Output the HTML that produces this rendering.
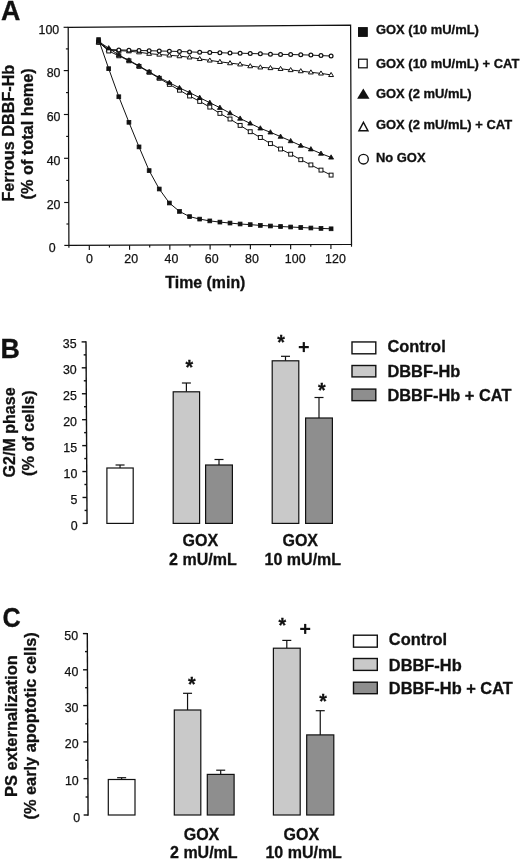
<!DOCTYPE html>
<html><head><meta charset="utf-8"><title>Figure</title>
<style>html,body{margin:0;padding:0;background:#fff;}svg{display:block;}</style>
</head><body>
<svg width="520" height="860" viewBox="0 0 520 860">
<rect width="520" height="860" fill="#fff"/>
<g stroke="#111" stroke-width="1.25" fill="none" stroke-linecap="square">
<polygon points="68.2,27.3 350.6,25.2 351.5,244.4 68.9,245.4"/>
</g>
<g stroke="#111" stroke-width="1.15" fill="none" stroke-linecap="butt">
<line x1="63.60" y1="27.30" x2="68.20" y2="27.30"/>
<line x1="65.87" y1="48.90" x2="68.27" y2="48.90"/>
<line x1="63.74" y1="70.60" x2="68.34" y2="70.60"/>
<line x1="66.01" y1="92.60" x2="68.41" y2="92.60"/>
<line x1="63.88" y1="114.50" x2="68.48" y2="114.50"/>
<line x1="66.15" y1="136.40" x2="68.55" y2="136.40"/>
<line x1="64.02" y1="158.30" x2="68.62" y2="158.30"/>
<line x1="66.29" y1="180.40" x2="68.69" y2="180.40"/>
<line x1="64.16" y1="202.50" x2="68.76" y2="202.50"/>
<line x1="66.43" y1="224.00" x2="68.83" y2="224.00"/>
<line x1="64.30" y1="245.40" x2="68.90" y2="245.40"/>
<line x1="68.90" y1="245.40" x2="68.90" y2="247.70"/>
<line x1="89.30" y1="245.33" x2="89.30" y2="249.93"/>
<line x1="109.44" y1="245.26" x2="109.44" y2="247.56"/>
<line x1="129.57" y1="245.19" x2="129.57" y2="249.79"/>
<line x1="149.70" y1="245.11" x2="149.70" y2="247.41"/>
<line x1="169.84" y1="245.04" x2="169.84" y2="249.64"/>
<line x1="189.97" y1="244.97" x2="189.97" y2="247.27"/>
<line x1="210.11" y1="244.90" x2="210.11" y2="249.50"/>
<line x1="230.25" y1="244.83" x2="230.25" y2="247.13"/>
<line x1="250.38" y1="244.76" x2="250.38" y2="249.36"/>
<line x1="270.51" y1="244.69" x2="270.51" y2="246.99"/>
<line x1="290.65" y1="244.62" x2="290.65" y2="249.22"/>
<line x1="310.79" y1="244.54" x2="310.79" y2="246.84"/>
<line x1="330.92" y1="244.47" x2="330.92" y2="249.07"/>
<line x1="351.50" y1="244.40" x2="351.50" y2="246.70"/>
</g>
<g font-family="Liberation Sans, sans-serif" font-size="12.4" fill="#111" stroke="#111" stroke-width="0.25">
<text x="55.6" y="251.80" text-anchor="end">0</text>
<text x="60.5" y="208.90" text-anchor="end">20</text>
<text x="60.5" y="164.70" text-anchor="end">40</text>
<text x="60.5" y="120.90" text-anchor="end">60</text>
<text x="60.5" y="77.00" text-anchor="end">80</text>
<text x="59.2" y="33.70" text-anchor="end">100</text>
<text x="86.10" y="262.5">0</text>
<text x="124.27" y="262.5">20</text>
<text x="164.54" y="262.5">40</text>
<text x="204.81" y="262.5">60</text>
<text x="245.08" y="262.5">80</text>
<text x="284.85" y="262.5">100</text>
<text x="325.12" y="262.5">120</text>
</g>
<polyline points="98.60,42.50 108.71,50.00 118.82,50.60 128.93,51.20 139.03,52.20 149.14,53.70 159.25,54.50 169.36,55.30 179.47,56.10 189.58,57.30 199.69,58.90 209.79,60.40 219.90,61.80 230.01,63.10 240.12,64.30 250.23,66.10 260.34,67.30 270.44,68.00 280.55,68.80 290.66,70.00 300.77,71.10 310.88,72.30 320.99,73.40 331.10,74.90" fill="none" stroke="#111" stroke-width="1.0"/>
<polygon points="98.60,40.04 101.05,44.14 96.15,44.14" fill="#fff" stroke="#111" stroke-width="1.0" stroke-linejoin="miter"/>
<polygon points="108.71,47.54 111.16,51.64 106.26,51.64" fill="#fff" stroke="#111" stroke-width="1.0" stroke-linejoin="miter"/>
<polygon points="118.82,48.14 121.27,52.24 116.37,52.24" fill="#fff" stroke="#111" stroke-width="1.0" stroke-linejoin="miter"/>
<polygon points="128.93,48.74 131.38,52.84 126.48,52.84" fill="#fff" stroke="#111" stroke-width="1.0" stroke-linejoin="miter"/>
<polygon points="139.03,49.74 141.48,53.84 136.58,53.84" fill="#fff" stroke="#111" stroke-width="1.0" stroke-linejoin="miter"/>
<polygon points="149.14,51.24 151.59,55.34 146.69,55.34" fill="#fff" stroke="#111" stroke-width="1.0" stroke-linejoin="miter"/>
<polygon points="159.25,52.04 161.70,56.14 156.80,56.14" fill="#fff" stroke="#111" stroke-width="1.0" stroke-linejoin="miter"/>
<polygon points="169.36,52.84 171.81,56.94 166.91,56.94" fill="#fff" stroke="#111" stroke-width="1.0" stroke-linejoin="miter"/>
<polygon points="179.47,53.64 181.92,57.74 177.02,57.74" fill="#fff" stroke="#111" stroke-width="1.0" stroke-linejoin="miter"/>
<polygon points="189.58,54.84 192.03,58.94 187.13,58.94" fill="#fff" stroke="#111" stroke-width="1.0" stroke-linejoin="miter"/>
<polygon points="199.69,56.44 202.13,60.54 197.24,60.54" fill="#fff" stroke="#111" stroke-width="1.0" stroke-linejoin="miter"/>
<polygon points="209.79,57.94 212.24,62.04 207.34,62.04" fill="#fff" stroke="#111" stroke-width="1.0" stroke-linejoin="miter"/>
<polygon points="219.90,59.34 222.35,63.44 217.45,63.44" fill="#fff" stroke="#111" stroke-width="1.0" stroke-linejoin="miter"/>
<polygon points="230.01,60.64 232.46,64.74 227.56,64.74" fill="#fff" stroke="#111" stroke-width="1.0" stroke-linejoin="miter"/>
<polygon points="240.12,61.84 242.57,65.94 237.67,65.94" fill="#fff" stroke="#111" stroke-width="1.0" stroke-linejoin="miter"/>
<polygon points="250.23,63.64 252.68,67.74 247.78,67.74" fill="#fff" stroke="#111" stroke-width="1.0" stroke-linejoin="miter"/>
<polygon points="260.34,64.84 262.79,68.94 257.89,68.94" fill="#fff" stroke="#111" stroke-width="1.0" stroke-linejoin="miter"/>
<polygon points="270.44,65.54 272.89,69.64 267.99,69.64" fill="#fff" stroke="#111" stroke-width="1.0" stroke-linejoin="miter"/>
<polygon points="280.55,66.34 283.00,70.44 278.10,70.44" fill="#fff" stroke="#111" stroke-width="1.0" stroke-linejoin="miter"/>
<polygon points="290.66,67.54 293.11,71.64 288.21,71.64" fill="#fff" stroke="#111" stroke-width="1.0" stroke-linejoin="miter"/>
<polygon points="300.77,68.64 303.22,72.74 298.32,72.74" fill="#fff" stroke="#111" stroke-width="1.0" stroke-linejoin="miter"/>
<polygon points="310.88,69.84 313.33,73.94 308.43,73.94" fill="#fff" stroke="#111" stroke-width="1.0" stroke-linejoin="miter"/>
<polygon points="320.99,70.94 323.44,75.04 318.54,75.04" fill="#fff" stroke="#111" stroke-width="1.0" stroke-linejoin="miter"/>
<polygon points="331.10,72.44 333.55,76.54 328.65,76.54" fill="#fff" stroke="#111" stroke-width="1.0" stroke-linejoin="miter"/>
<polyline points="98.60,42.00 108.71,49.60 118.82,49.90 128.93,50.20 139.03,50.50 149.14,50.70 159.25,51.00 169.36,51.20 179.47,51.50 189.58,51.90 199.69,52.30 209.79,52.40 219.90,52.70 230.01,53.10 240.12,53.20 250.23,53.50 260.34,53.80 270.44,54.20 280.55,54.40 290.66,54.50 300.77,54.80 310.88,55.10 320.99,55.60 331.10,56.00" fill="none" stroke="#111" stroke-width="1.0"/>
<circle cx="98.60" cy="42.00" r="1.9" fill="#fff" stroke="#111" stroke-width="1.25"/>
<circle cx="108.71" cy="49.60" r="1.9" fill="#fff" stroke="#111" stroke-width="1.25"/>
<circle cx="118.82" cy="49.90" r="1.9" fill="#fff" stroke="#111" stroke-width="1.25"/>
<circle cx="128.93" cy="50.20" r="1.9" fill="#fff" stroke="#111" stroke-width="1.25"/>
<circle cx="139.03" cy="50.50" r="1.9" fill="#fff" stroke="#111" stroke-width="1.25"/>
<circle cx="149.14" cy="50.70" r="1.9" fill="#fff" stroke="#111" stroke-width="1.25"/>
<circle cx="159.25" cy="51.00" r="1.9" fill="#fff" stroke="#111" stroke-width="1.25"/>
<circle cx="169.36" cy="51.20" r="1.9" fill="#fff" stroke="#111" stroke-width="1.25"/>
<circle cx="179.47" cy="51.50" r="1.9" fill="#fff" stroke="#111" stroke-width="1.25"/>
<circle cx="189.58" cy="51.90" r="1.9" fill="#fff" stroke="#111" stroke-width="1.25"/>
<circle cx="199.69" cy="52.30" r="1.9" fill="#fff" stroke="#111" stroke-width="1.25"/>
<circle cx="209.79" cy="52.40" r="1.9" fill="#fff" stroke="#111" stroke-width="1.25"/>
<circle cx="219.90" cy="52.70" r="1.9" fill="#fff" stroke="#111" stroke-width="1.25"/>
<circle cx="230.01" cy="53.10" r="1.9" fill="#fff" stroke="#111" stroke-width="1.25"/>
<circle cx="240.12" cy="53.20" r="1.9" fill="#fff" stroke="#111" stroke-width="1.25"/>
<circle cx="250.23" cy="53.50" r="1.9" fill="#fff" stroke="#111" stroke-width="1.25"/>
<circle cx="260.34" cy="53.80" r="1.9" fill="#fff" stroke="#111" stroke-width="1.25"/>
<circle cx="270.44" cy="54.20" r="1.9" fill="#fff" stroke="#111" stroke-width="1.25"/>
<circle cx="280.55" cy="54.40" r="1.9" fill="#fff" stroke="#111" stroke-width="1.25"/>
<circle cx="290.66" cy="54.50" r="1.9" fill="#fff" stroke="#111" stroke-width="1.25"/>
<circle cx="300.77" cy="54.80" r="1.9" fill="#fff" stroke="#111" stroke-width="1.25"/>
<circle cx="310.88" cy="55.10" r="1.9" fill="#fff" stroke="#111" stroke-width="1.25"/>
<circle cx="320.99" cy="55.60" r="1.9" fill="#fff" stroke="#111" stroke-width="1.25"/>
<circle cx="331.10" cy="56.00" r="1.9" fill="#fff" stroke="#111" stroke-width="1.25"/>
<polyline points="98.60,42.00 108.71,51.00 118.82,55.80 128.93,60.80 139.03,66.40 149.14,72.30 159.25,78.30 169.36,84.40 179.47,90.20 189.58,96.00 199.69,101.40 209.79,107.10 219.90,113.40 230.01,119.00 240.12,125.40 250.23,131.70 260.34,137.50 270.44,143.60 280.55,149.00 290.66,154.20 300.77,159.70 310.88,164.90 320.99,170.10 331.10,175.10" fill="none" stroke="#111" stroke-width="1.0"/>
<rect x="96.65" y="40.05" width="3.9" height="3.9" fill="#fff" stroke="#111" stroke-width="1.0"/>
<rect x="106.76" y="49.05" width="3.9" height="3.9" fill="#fff" stroke="#111" stroke-width="1.0"/>
<rect x="116.87" y="53.85" width="3.9" height="3.9" fill="#fff" stroke="#111" stroke-width="1.0"/>
<rect x="126.98" y="58.85" width="3.9" height="3.9" fill="#fff" stroke="#111" stroke-width="1.0"/>
<rect x="137.08" y="64.45" width="3.9" height="3.9" fill="#fff" stroke="#111" stroke-width="1.0"/>
<rect x="147.19" y="70.35" width="3.9" height="3.9" fill="#fff" stroke="#111" stroke-width="1.0"/>
<rect x="157.30" y="76.35" width="3.9" height="3.9" fill="#fff" stroke="#111" stroke-width="1.0"/>
<rect x="167.41" y="82.45" width="3.9" height="3.9" fill="#fff" stroke="#111" stroke-width="1.0"/>
<rect x="177.52" y="88.25" width="3.9" height="3.9" fill="#fff" stroke="#111" stroke-width="1.0"/>
<rect x="187.63" y="94.05" width="3.9" height="3.9" fill="#fff" stroke="#111" stroke-width="1.0"/>
<rect x="197.74" y="99.45" width="3.9" height="3.9" fill="#fff" stroke="#111" stroke-width="1.0"/>
<rect x="207.84" y="105.15" width="3.9" height="3.9" fill="#fff" stroke="#111" stroke-width="1.0"/>
<rect x="217.95" y="111.45" width="3.9" height="3.9" fill="#fff" stroke="#111" stroke-width="1.0"/>
<rect x="228.06" y="117.05" width="3.9" height="3.9" fill="#fff" stroke="#111" stroke-width="1.0"/>
<rect x="238.17" y="123.45" width="3.9" height="3.9" fill="#fff" stroke="#111" stroke-width="1.0"/>
<rect x="248.28" y="129.75" width="3.9" height="3.9" fill="#fff" stroke="#111" stroke-width="1.0"/>
<rect x="258.39" y="135.55" width="3.9" height="3.9" fill="#fff" stroke="#111" stroke-width="1.0"/>
<rect x="268.49" y="141.65" width="3.9" height="3.9" fill="#fff" stroke="#111" stroke-width="1.0"/>
<rect x="278.60" y="147.05" width="3.9" height="3.9" fill="#fff" stroke="#111" stroke-width="1.0"/>
<rect x="288.71" y="152.25" width="3.9" height="3.9" fill="#fff" stroke="#111" stroke-width="1.0"/>
<rect x="298.82" y="157.75" width="3.9" height="3.9" fill="#fff" stroke="#111" stroke-width="1.0"/>
<rect x="308.93" y="162.95" width="3.9" height="3.9" fill="#fff" stroke="#111" stroke-width="1.0"/>
<rect x="319.04" y="168.15" width="3.9" height="3.9" fill="#fff" stroke="#111" stroke-width="1.0"/>
<rect x="329.15" y="173.15" width="3.9" height="3.9" fill="#fff" stroke="#111" stroke-width="1.0"/>
<polyline points="98.60,41.50 108.71,48.20 118.82,55.00 128.93,60.30 139.03,65.80 149.14,71.80 159.25,77.60 169.36,82.70 179.47,87.90 189.58,92.60 199.69,97.70 209.79,102.70 219.90,107.70 230.01,113.10 240.12,118.50 250.23,123.40 260.34,128.30 270.44,132.30 280.55,136.60 290.66,141.00 300.77,145.60 310.88,149.20 320.99,153.60 331.10,157.40" fill="none" stroke="#111" stroke-width="1.0"/>
<polygon points="98.60,38.92 101.10,43.22 96.10,43.22" fill="#111" stroke="#111" stroke-width="0.8" stroke-linejoin="miter"/>
<polygon points="108.71,45.62 111.21,49.92 106.21,49.92" fill="#111" stroke="#111" stroke-width="0.8" stroke-linejoin="miter"/>
<polygon points="118.82,52.42 121.32,56.72 116.32,56.72" fill="#111" stroke="#111" stroke-width="0.8" stroke-linejoin="miter"/>
<polygon points="128.93,57.72 131.43,62.02 126.43,62.02" fill="#111" stroke="#111" stroke-width="0.8" stroke-linejoin="miter"/>
<polygon points="139.03,63.22 141.53,67.52 136.53,67.52" fill="#111" stroke="#111" stroke-width="0.8" stroke-linejoin="miter"/>
<polygon points="149.14,69.22 151.64,73.52 146.64,73.52" fill="#111" stroke="#111" stroke-width="0.8" stroke-linejoin="miter"/>
<polygon points="159.25,75.02 161.75,79.32 156.75,79.32" fill="#111" stroke="#111" stroke-width="0.8" stroke-linejoin="miter"/>
<polygon points="169.36,80.12 171.86,84.42 166.86,84.42" fill="#111" stroke="#111" stroke-width="0.8" stroke-linejoin="miter"/>
<polygon points="179.47,85.32 181.97,89.62 176.97,89.62" fill="#111" stroke="#111" stroke-width="0.8" stroke-linejoin="miter"/>
<polygon points="189.58,90.02 192.08,94.32 187.08,94.32" fill="#111" stroke="#111" stroke-width="0.8" stroke-linejoin="miter"/>
<polygon points="199.69,95.12 202.19,99.42 197.19,99.42" fill="#111" stroke="#111" stroke-width="0.8" stroke-linejoin="miter"/>
<polygon points="209.79,100.12 212.29,104.42 207.29,104.42" fill="#111" stroke="#111" stroke-width="0.8" stroke-linejoin="miter"/>
<polygon points="219.90,105.12 222.40,109.42 217.40,109.42" fill="#111" stroke="#111" stroke-width="0.8" stroke-linejoin="miter"/>
<polygon points="230.01,110.52 232.51,114.82 227.51,114.82" fill="#111" stroke="#111" stroke-width="0.8" stroke-linejoin="miter"/>
<polygon points="240.12,115.92 242.62,120.22 237.62,120.22" fill="#111" stroke="#111" stroke-width="0.8" stroke-linejoin="miter"/>
<polygon points="250.23,120.82 252.73,125.12 247.73,125.12" fill="#111" stroke="#111" stroke-width="0.8" stroke-linejoin="miter"/>
<polygon points="260.34,125.72 262.84,130.02 257.84,130.02" fill="#111" stroke="#111" stroke-width="0.8" stroke-linejoin="miter"/>
<polygon points="270.44,129.72 272.94,134.02 267.94,134.02" fill="#111" stroke="#111" stroke-width="0.8" stroke-linejoin="miter"/>
<polygon points="280.55,134.02 283.05,138.32 278.05,138.32" fill="#111" stroke="#111" stroke-width="0.8" stroke-linejoin="miter"/>
<polygon points="290.66,138.42 293.16,142.72 288.16,142.72" fill="#111" stroke="#111" stroke-width="0.8" stroke-linejoin="miter"/>
<polygon points="300.77,143.02 303.27,147.32 298.27,147.32" fill="#111" stroke="#111" stroke-width="0.8" stroke-linejoin="miter"/>
<polygon points="310.88,146.62 313.38,150.92 308.38,150.92" fill="#111" stroke="#111" stroke-width="0.8" stroke-linejoin="miter"/>
<polygon points="320.99,151.02 323.49,155.32 318.49,155.32" fill="#111" stroke="#111" stroke-width="0.8" stroke-linejoin="miter"/>
<polygon points="331.10,154.82 333.60,159.12 328.60,159.12" fill="#111" stroke="#111" stroke-width="0.8" stroke-linejoin="miter"/>
<polyline points="98.60,39.60 108.71,68.70 118.82,96.75 128.93,122.30 139.03,146.90 149.14,170.60 159.25,189.00 169.36,203.00 179.47,211.40 189.58,216.60 199.69,219.10 209.79,220.90 219.90,222.10 230.01,223.05 240.12,224.00 250.23,224.65 260.34,225.40 270.44,226.00 280.55,226.50 290.66,227.00 300.77,227.50 310.88,228.00 320.99,228.40 331.10,228.80" fill="none" stroke="#111" stroke-width="1.0"/>
<rect x="96.70" y="37.70" width="3.8" height="3.8" fill="#111" stroke="#111" stroke-width="0.8"/>
<rect x="106.81" y="66.80" width="3.8" height="3.8" fill="#111" stroke="#111" stroke-width="0.8"/>
<rect x="116.92" y="94.85" width="3.8" height="3.8" fill="#111" stroke="#111" stroke-width="0.8"/>
<rect x="127.03" y="120.40" width="3.8" height="3.8" fill="#111" stroke="#111" stroke-width="0.8"/>
<rect x="137.13" y="145.00" width="3.8" height="3.8" fill="#111" stroke="#111" stroke-width="0.8"/>
<rect x="147.24" y="168.70" width="3.8" height="3.8" fill="#111" stroke="#111" stroke-width="0.8"/>
<rect x="157.35" y="187.10" width="3.8" height="3.8" fill="#111" stroke="#111" stroke-width="0.8"/>
<rect x="167.46" y="201.10" width="3.8" height="3.8" fill="#111" stroke="#111" stroke-width="0.8"/>
<rect x="177.57" y="209.50" width="3.8" height="3.8" fill="#111" stroke="#111" stroke-width="0.8"/>
<rect x="187.68" y="214.70" width="3.8" height="3.8" fill="#111" stroke="#111" stroke-width="0.8"/>
<rect x="197.78" y="217.20" width="3.8" height="3.8" fill="#111" stroke="#111" stroke-width="0.8"/>
<rect x="207.89" y="219.00" width="3.8" height="3.8" fill="#111" stroke="#111" stroke-width="0.8"/>
<rect x="218.00" y="220.20" width="3.8" height="3.8" fill="#111" stroke="#111" stroke-width="0.8"/>
<rect x="228.11" y="221.15" width="3.8" height="3.8" fill="#111" stroke="#111" stroke-width="0.8"/>
<rect x="238.22" y="222.10" width="3.8" height="3.8" fill="#111" stroke="#111" stroke-width="0.8"/>
<rect x="248.33" y="222.75" width="3.8" height="3.8" fill="#111" stroke="#111" stroke-width="0.8"/>
<rect x="258.44" y="223.50" width="3.8" height="3.8" fill="#111" stroke="#111" stroke-width="0.8"/>
<rect x="268.54" y="224.10" width="3.8" height="3.8" fill="#111" stroke="#111" stroke-width="0.8"/>
<rect x="278.65" y="224.60" width="3.8" height="3.8" fill="#111" stroke="#111" stroke-width="0.8"/>
<rect x="288.76" y="225.10" width="3.8" height="3.8" fill="#111" stroke="#111" stroke-width="0.8"/>
<rect x="298.87" y="225.60" width="3.8" height="3.8" fill="#111" stroke="#111" stroke-width="0.8"/>
<rect x="308.98" y="226.10" width="3.8" height="3.8" fill="#111" stroke="#111" stroke-width="0.8"/>
<rect x="319.09" y="226.50" width="3.8" height="3.8" fill="#111" stroke="#111" stroke-width="0.8"/>
<rect x="329.20" y="226.90" width="3.8" height="3.8" fill="#111" stroke="#111" stroke-width="0.8"/>
<rect x="358.50" y="27.60" width="8.8" height="8.8" fill="#111" stroke="#111" stroke-width="1.0"/>
<rect x="358.60" y="59.20" width="8.6" height="8.6" fill="#fff" stroke="#111" stroke-width="1.25"/>
<polygon points="363.30,88.60 369.50,98.80 357.10,98.80" fill="#111"/>
<polygon points="363.45,122.30 368.00,130.80 358.90,130.80" fill="#fff" stroke="#111" stroke-width="1.4" stroke-linejoin="miter"/>
<circle cx="363.50" cy="159.20" r="4.8" fill="#fff" stroke="#111" stroke-width="1.4"/>
<g font-family="Liberation Sans, sans-serif" font-size="11.9" font-weight="bold" fill="#111" stroke="#111" stroke-width="0.3">
<text transform="translate(375.9,33.9) scale(1.09,1)">GOX (10 mU/mL)</text>
<text transform="translate(375.9,67.9) scale(1.09,1)">GOX (10 mU/mL) + CAT</text>
<text transform="translate(375.9,98.0) scale(1.09,1)">GOX (2 mU/mL)</text>
<text transform="translate(375.9,129.4) scale(1.09,1)">GOX (2 mU/mL) + CAT</text>
<text transform="translate(375.9,162.4) scale(1.09,1)">No GOX</text>
</g>
<g font-family="Liberation Sans, sans-serif" font-weight="bold" fill="#111" stroke="#111" stroke-width="0.3">
<text font-size="15.9" x="205.4" y="287.6" text-anchor="middle">Time (min)</text>
<text font-size="15.9" transform="translate(14,133.15) rotate(-90) scale(1.02,1)" text-anchor="middle">Ferrous DBBF-Hb</text>
<text font-size="15.9" transform="translate(33.0,133.9) rotate(-90) scale(1.025,1)" text-anchor="middle">(% of total heme)</text>
<text font-size="26.8" x="0.9" y="19.7">A</text>
<text font-size="26.8" x="0.5" y="357.8">B</text>
<text font-size="27.4" transform="translate(2.5,627.1) scale(0.92,1)">C</text>
</g>
<g stroke="#111" stroke-width="1.4" fill="none">
<line x1="86.00" y1="341.19" x2="87.05" y2="524.10"/>
<line x1="82.65" y1="523.40" x2="87.05" y2="523.40"/>
<line x1="84.57" y1="510.44" x2="86.97" y2="510.44"/>
<line x1="82.50" y1="497.47" x2="86.90" y2="497.47"/>
<line x1="84.42" y1="484.50" x2="86.83" y2="484.50"/>
<line x1="82.35" y1="471.54" x2="86.75" y2="471.54"/>
<line x1="84.27" y1="458.57" x2="86.67" y2="458.57"/>
<line x1="82.20" y1="445.61" x2="86.60" y2="445.61"/>
<line x1="84.12" y1="432.64" x2="86.53" y2="432.64"/>
<line x1="82.05" y1="419.68" x2="86.45" y2="419.68"/>
<line x1="83.97" y1="406.71" x2="86.38" y2="406.71"/>
<line x1="81.90" y1="393.75" x2="86.30" y2="393.75"/>
<line x1="83.82" y1="380.78" x2="86.22" y2="380.78"/>
<line x1="81.75" y1="367.82" x2="86.15" y2="367.82"/>
<line x1="83.67" y1="354.86" x2="86.08" y2="354.86"/>
<line x1="81.60" y1="341.89" x2="86.00" y2="341.89"/>
</g>
<g font-family="Liberation Sans, sans-serif" font-size="12.4" fill="#111" stroke="#111" stroke-width="0.25">
<text x="77.60" y="530.35" text-anchor="end">0</text>
<text x="77.45" y="504.37" text-anchor="end">5</text>
<text x="77.30" y="478.39" text-anchor="end">10</text>
<text x="77.15" y="452.41" text-anchor="end">15</text>
<text x="77.00" y="426.43" text-anchor="end">20</text>
<text x="76.85" y="400.45" text-anchor="end">25</text>
<text x="76.70" y="374.47" text-anchor="end">30</text>
<text x="76.55" y="348.49" text-anchor="end">35</text>
</g>
<g stroke="#111" stroke-width="1.2" fill="none"><line x1="120.05" y1="468" x2="120.05" y2="465"/><line x1="115.55" y1="465" x2="124.55" y2="465"/></g>
<rect x="106.9" y="468" width="26.299999999999983" height="55.39999999999998" fill="#fff" stroke="#111" stroke-width="1.2"/>
<g stroke="#111" stroke-width="1.2" fill="none"><line x1="186.39999999999998" y1="391.8" x2="186.39999999999998" y2="383"/><line x1="181.89999999999998" y1="383" x2="190.89999999999998" y2="383"/></g>
<rect x="173.2" y="391.8" width="26.400000000000006" height="131.59999999999997" fill="#c9c9c9" stroke="#111" stroke-width="1.2"/>
<g stroke="#111" stroke-width="1.2" fill="none"><line x1="219.0" y1="465" x2="219.0" y2="459.5"/><line x1="214.5" y1="459.5" x2="223.5" y2="459.5"/></g>
<rect x="205.6" y="465" width="26.80000000000001" height="58.39999999999998" fill="#8e8e8e" stroke="#111" stroke-width="1.2"/>
<g stroke="#111" stroke-width="1.2" fill="none"><line x1="285.5" y1="360.8" x2="285.5" y2="356.3"/><line x1="281.0" y1="356.3" x2="290.0" y2="356.3"/></g>
<rect x="272.2" y="360.8" width="26.600000000000023" height="162.59999999999997" fill="#c9c9c9" stroke="#111" stroke-width="1.2"/>
<g stroke="#111" stroke-width="1.2" fill="none"><line x1="319.0" y1="418" x2="319.0" y2="397.5"/><line x1="314.5" y1="397.5" x2="323.5" y2="397.5"/></g>
<rect x="305.6" y="418" width="26.799999999999955" height="105.39999999999998" fill="#8e8e8e" stroke="#111" stroke-width="1.2"/>
<g font-family="Liberation Sans, sans-serif" font-weight="bold" fill="#111" stroke="#111" stroke-width="0.3">
<text font-size="19.6" x="189.3" y="374.0" text-anchor="middle">*</text>
<text font-size="19.6" x="281.1" y="349.40000000000003" text-anchor="middle">*</text>
<text font-size="19.6" x="321.7" y="396.5" text-anchor="middle">*</text>
</g>
<g stroke="#111" stroke-width="2.2"><line x1="298.8" y1="347.1" x2="308.8" y2="347.1"/><line x1="303.8" y1="342.1" x2="303.8" y2="352.1"/></g>
<g font-family="Liberation Sans, sans-serif" font-weight="bold" font-size="15.7" fill="#111" stroke="#111" stroke-width="0.3">
<rect x="352.0" y="341.95" width="23.8" height="11.85" fill="#fff" stroke="#111" stroke-width="1.4"/>
<text transform="translate(387.4,352.0) scale(1.045,1)">Control</text>
<rect x="352.0" y="365.5" width="23.8" height="11.4" fill="#c9c9c9" stroke="#111" stroke-width="1.4"/>
<text transform="translate(387.4,377.3) scale(1.045,1)">DBBF-Hb</text>
<rect x="352.0" y="389.1" width="23.8" height="11.55" fill="#8e8e8e" stroke="#111" stroke-width="1.4"/>
<text transform="translate(387.4,400.8) scale(1.045,1)">DBBF-Hb + CAT</text>
<text font-size="16" x="200.4" y="545.9" text-anchor="middle">GOX</text>
<text font-size="16" x="202.9" y="564.5" text-anchor="middle">2 mU/mL</text>
<text font-size="16" x="300.25" y="545.9" text-anchor="middle">GOX</text>
<text font-size="16" x="302.85" y="564.5" text-anchor="middle">10 mU/mL</text>
</g>
<g font-family="Liberation Sans, sans-serif" font-weight="bold" font-size="15.9" fill="#111" stroke="#111" stroke-width="0.3">
<text transform="translate(15.1,432.4) rotate(-90) scale(1.01,1)" text-anchor="middle">G2/M phase</text>
<text transform="translate(34.2,433.15) rotate(-90) scale(1.02,1)" text-anchor="middle">(% of cells)</text>
</g>
<g stroke="#111" stroke-width="1.4" fill="none">
<line x1="87.30" y1="632.90" x2="88.05" y2="815.70"/>
<line x1="82.90" y1="633.60" x2="87.30" y2="633.60"/>
<line x1="84.97" y1="651.60" x2="87.37" y2="651.60"/>
<line x1="83.05" y1="669.80" x2="87.45" y2="669.80"/>
<line x1="85.12" y1="687.70" x2="87.52" y2="687.70"/>
<line x1="83.20" y1="705.60" x2="87.60" y2="705.60"/>
<line x1="85.27" y1="723.80" x2="87.67" y2="723.80"/>
<line x1="83.35" y1="741.90" x2="87.75" y2="741.90"/>
<line x1="85.42" y1="760.30" x2="87.82" y2="760.30"/>
<line x1="83.50" y1="778.65" x2="87.90" y2="778.65"/>
<line x1="85.58" y1="797.00" x2="87.98" y2="797.00"/>
<line x1="83.65" y1="815.00" x2="88.05" y2="815.00"/>
</g>
<g font-family="Liberation Sans, sans-serif" font-size="12.4" fill="#111" stroke="#111" stroke-width="0.25">
<text x="78.15" y="639.60" text-anchor="end">50</text>
<text x="78.30" y="675.92" text-anchor="end">40</text>
<text x="78.45" y="711.84" text-anchor="end">30</text>
<text x="78.60" y="748.26" text-anchor="end">20</text>
<text x="78.75" y="785.13" text-anchor="end">10</text>
<text x="80.10" y="821.60" text-anchor="end">0</text>
</g>
<g stroke="#111" stroke-width="1.2" fill="none"><line x1="121.65" y1="779.5" x2="121.65" y2="777.7"/><line x1="117.15" y1="777.7" x2="126.15" y2="777.7"/></g>
<rect x="108.3" y="779.5" width="26.700000000000003" height="35.5" fill="#fff" stroke="#111" stroke-width="1.2"/>
<g stroke="#111" stroke-width="1.2" fill="none"><line x1="187.55" y1="710" x2="187.55" y2="693.3"/><line x1="183.05" y1="693.3" x2="192.05" y2="693.3"/></g>
<rect x="174.3" y="710" width="26.5" height="105.0" fill="#c9c9c9" stroke="#111" stroke-width="1.2"/>
<g stroke="#111" stroke-width="1.2" fill="none"><line x1="220.7" y1="774.4" x2="220.7" y2="770.2"/><line x1="216.2" y1="770.2" x2="225.2" y2="770.2"/></g>
<rect x="207.3" y="774.4" width="26.799999999999983" height="40.60000000000002" fill="#8e8e8e" stroke="#111" stroke-width="1.2"/>
<g stroke="#111" stroke-width="1.2" fill="none"><line x1="286.79999999999995" y1="648.2" x2="286.79999999999995" y2="640.4"/><line x1="282.29999999999995" y1="640.4" x2="291.29999999999995" y2="640.4"/></g>
<rect x="273.4" y="648.2" width="26.80000000000001" height="166.79999999999995" fill="#c9c9c9" stroke="#111" stroke-width="1.2"/>
<g stroke="#111" stroke-width="1.2" fill="none"><line x1="320.25" y1="734.9" x2="320.25" y2="710.7"/><line x1="315.75" y1="710.7" x2="324.75" y2="710.7"/></g>
<rect x="306.7" y="734.9" width="27.100000000000023" height="80.10000000000002" fill="#8e8e8e" stroke="#111" stroke-width="1.2"/>
<g font-family="Liberation Sans, sans-serif" font-weight="bold" fill="#111" stroke="#111" stroke-width="0.3">
<text font-size="19.6" x="191.8" y="690.9" text-anchor="middle">*</text>
<text font-size="19.6" x="282.2" y="632.0" text-anchor="middle">*</text>
<text font-size="19.6" x="323" y="707.9" text-anchor="middle">*</text>
</g>
<g stroke="#111" stroke-width="2.2"><line x1="300.2" y1="628.9" x2="310.2" y2="628.9"/><line x1="305.2" y1="623.9" x2="305.2" y2="633.9"/></g>
<g font-family="Liberation Sans, sans-serif" font-weight="bold" font-size="15.7" fill="#111" stroke="#111" stroke-width="0.3">
<rect x="353.5" y="635.2" width="23.8" height="11.95" fill="#fff" stroke="#111" stroke-width="1.4"/>
<text transform="translate(388.8,644.8) scale(1.045,1)">Control</text>
<rect x="353.5" y="658.5" width="23.8" height="11.9" fill="#c9c9c9" stroke="#111" stroke-width="1.4"/>
<text transform="translate(388.8,670.8) scale(1.045,1)">DBBF-Hb</text>
<rect x="353.5" y="682.2" width="23.8" height="11.5" fill="#8e8e8e" stroke="#111" stroke-width="1.4"/>
<text transform="translate(388.8,693.9) scale(1.045,1)">DBBF-Hb + CAT</text>
<text font-size="16" x="201.5" y="839.6" text-anchor="middle">GOX</text>
<text font-size="16" x="203.85" y="858.0" text-anchor="middle">2 mU/mL</text>
<text font-size="16" x="301.35" y="839.6" text-anchor="middle">GOX</text>
<text font-size="16" x="303.65" y="858.0" text-anchor="middle">10 mU/mL</text>
</g>
<g font-family="Liberation Sans, sans-serif" font-weight="bold" font-size="15.9" fill="#111" stroke="#111" stroke-width="0.3">
<text transform="translate(16.5,726.1) rotate(-90) scale(1.035,1)" text-anchor="middle">PS externalization</text>
<text transform="translate(36.2,725.9) rotate(-90) scale(1.03,1)" text-anchor="middle">(% early apoptotic cells)</text>
</g>
</svg>
</body></html>
